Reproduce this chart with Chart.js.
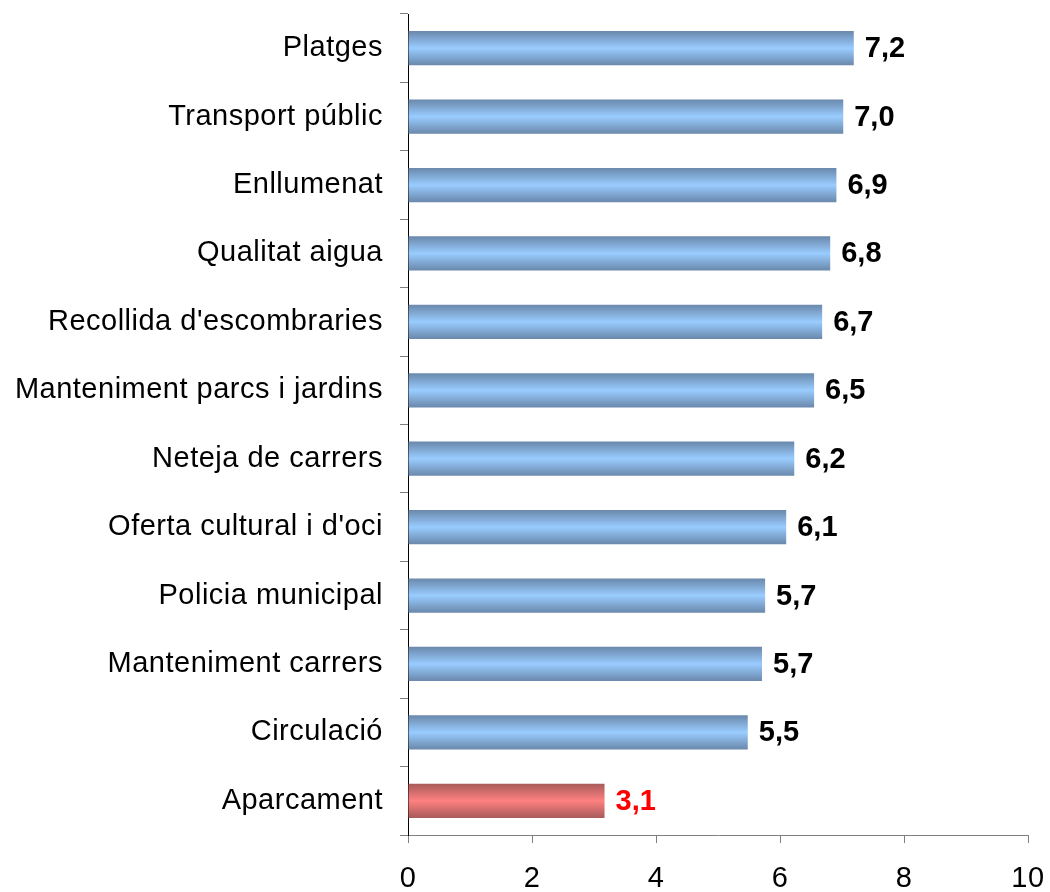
<!DOCTYPE html>
<html>
<head>
<meta charset="utf-8">
<script src="https://cdn.jsdelivr.net/npm/chart.js@4/dist/chart.umd.min.js"></script>
<style>
  html,body{margin:0;padding:0;background:#fff;}
  #wrap{width:1050px;height:892px;position:relative;}
</style>
</head>
<body>
<div id="wrap"><canvas id="c" width="1050" height="892"></canvas></div>
<script>
const categories = ["Platges","Transport públic","Enllumenat","Qualitat aigua","Recollida d'escombraries","Manteniment parcs i jardins","Neteja de carrers","Oferta cultural i d'oci","Policia municipal","Manteniment carrers","Circulació","Aparcament"];
const values = [7.19, 7.02, 6.91, 6.81, 6.68, 6.55, 6.23, 6.1, 5.76, 5.71, 5.48, 3.17];
const valueLabels = ["7,2","7,0","6,9","6,8","6,7","6,5","6,2","6,1","5,7","5,7","5,5","3,1"];
const xTicks = [0, 2, 4, 6, 8, 10];

const FONT = "'Liberation Sans', Arial, Helvetica, sans-serif";
const FSIZE = 29;

function barFill(context) {
  const chart = context.chart;
  const isRed = context.dataIndex === categories.length - 1;
  const edge = isRed ? '#a85a5a' : '#6a88ab';
  const mid = isRed ? '#ff8080' : '#99ccff';
  const yScale = chart.scales && chart.scales.y;
  if (!yScale || !chart.chartArea) return mid;
  const cy = yScale.getPixelForValue(context.dataIndex);
  const h = (yScale.height / categories.length) * 0.5;
  const g = chart.ctx.createLinearGradient(0, cy - h / 2, 0, cy + h / 2);
  g.addColorStop(0, edge);
  g.addColorStop(0.5, mid);
  g.addColorStop(1, edge);
  return g;
}

const spacingPlugin = {
  id: 'spacing',
  beforeDraw(chart) { chart.ctx.letterSpacing = '0.5px'; }
};

const valueLabelPlugin = {
  id: 'valueLabels',
  afterDatasetsDraw(chart) {
    const ctx = chart.ctx;
    const meta = chart.getDatasetMeta(0);
    ctx.save();
    ctx.letterSpacing = '0px';
    ctx.font = "bold " + FSIZE + "px " + FONT;
    ctx.textBaseline = 'middle';
    ctx.textAlign = 'left';
    meta.data.forEach((bar, i) => {
      ctx.fillStyle = i === categories.length - 1 ? '#ff0000' : '#000000';
      ctx.fillText(valueLabels[i], bar.x + 11, bar.y + 1);
    });
    ctx.restore();
  }
};

new Chart(document.getElementById('c'), {
  type: 'bar',
  data: {
    labels: categories,
    datasets: [{
      data: values,
      backgroundColor: barFill,
      borderWidth: 0,
      barPercentage: 0.5,
      categoryPercentage: 1.0
    }]
  },
  options: {
    indexAxis: 'y',
    responsive: false,
    animation: false,
    devicePixelRatio: 1,
    layout: { padding: { left: 0, right: 22, top: 14, bottom: 0 } },
    plugins: { legend: { display: false }, tooltip: { enabled: false } },
    scales: {
      x: {
        min: 0, max: 10,
        afterBuildTicks(scale) { scale.ticks = xTicks.map(v => ({ value: v })); },
        grid: { drawOnChartArea: false, drawTicks: true, tickLength: 8, color: '#808080', lineWidth: 1 },
        border: { color: '#808080', width: 1 },
        ticks: { color: '#000', font: { family: FONT, size: FSIZE }, padding: 19, maxRotation: 0 },
        afterFit(scale) { scale.height = 57; scale.paddingLeft = 0; scale.paddingRight = 0; }
      },
      y: {
        grid: { drawOnChartArea: false, drawTicks: true, tickLength: 8, color: '#808080', lineWidth: 1, offset: true },
        border: { color: '#000', width: 1 },
        ticks: { color: '#000', font: { family: FONT, size: FSIZE }, padding: 17 },
        afterFit(scale) { scale.width = 408; scale.paddingTop = 0; scale.paddingBottom = 0; }
      }
    }
  },
  plugins: [spacingPlugin, valueLabelPlugin]
});
</script>
</body>
</html>
